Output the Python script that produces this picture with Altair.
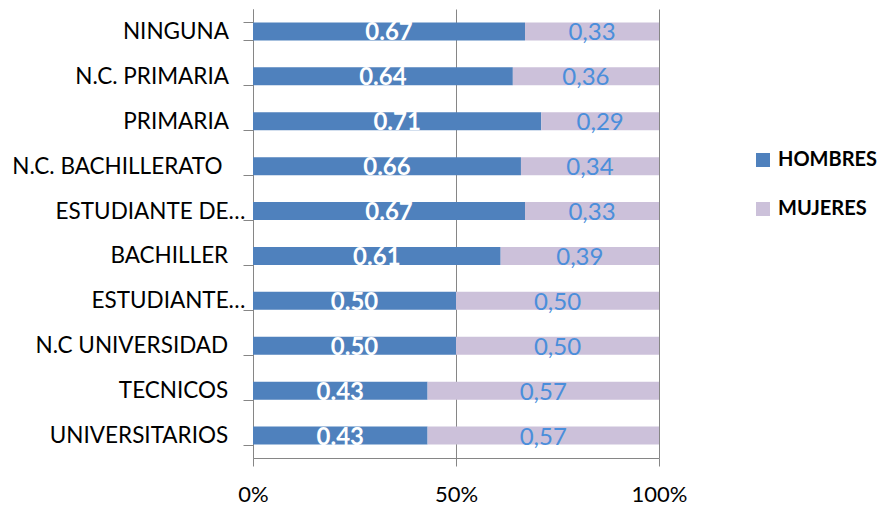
import altair as alt
import pandas as pd

categories = ["NINGUNA", "N.C. PRIMARIA", "PRIMARIA", "N.C. BACHILLERATO", "ESTUDIANTE DE…",
              "BACHILLER", "ESTUDIANTE…", "N.C UNIVERSIDAD", "TECNICOS", "UNIVERSITARIOS"]
hombres = [0.67, 0.64, 0.71, 0.66, 0.67, 0.61, 0.50, 0.50, 0.43, 0.43]
mujeres = [0.33, 0.36, 0.29, 0.34, 0.33, 0.39, 0.50, 0.50, 0.57, 0.57]
series = ["HOMBRES", "MUJERES"]
colors = ["#4F81BD", "#CCC1DA"]

rows = []
for c, h, m in zip(categories, hombres, mujeres):
    rows.append({"cat": c, "serie": "HOMBRES", "ord": 0, "v": h, "start": 0.0, "end": h,
                 "mid": h / 2, "lab": f"{h:.2f}"})
    rows.append({"cat": c, "serie": "MUJERES", "ord": 1, "v": m, "start": h, "end": h + m,
                 "mid": h + m / 2, "lab": f"{m:.2f}".replace(".", ",")})
df = pd.DataFrame(rows)

FONT = "Lato"
GAP = "\u00a0\u200b"
label_expr = (
    "indexof(datum.label, '…') >= 0 ? datum.label : "
    f"(datum.label == 'N.C. BACHILLERATO' ? datum.label + '{GAP * 4}' : datum.label + '{GAP * 3}')"
)

y_enc = alt.Y("cat:N", sort=categories, title=None,
              scale=alt.Scale(paddingInner=0.6, paddingOuter=0.3),
              axis=alt.Axis(labelFont=FONT, labelFontSize=22.5, labelColor="#000000",
                            labelPadding=-2, tickBand="extent", tickSize=10,
                            tickColor="#868686", domainColor="#868686", labelLimit=250,
                            labelExpr=label_expr))
x_scale = alt.Scale(domain=[0, 1], nice=False)

bars = alt.Chart(df).mark_bar().encode(
    y=y_enc,
    x=alt.X("start:Q", scale=x_scale, title=None,
            axis=alt.Axis(values=[0, 0.5, 1], format="%", labelFont=FONT, labelFontSize=22,
                          labelColor="#000000", labelPadding=18, tickSize=8,
                          tickColor="#868686", domainColor="#868686",
                          grid=True, gridColor="#868686", labelFlush=False)),
    x2="end:Q",
    color=alt.Color("serie:N", scale=alt.Scale(domain=series, range=colors),
                    legend=alt.Legend(title=None, orient="none", legendX=500, legendY=141,
                                      labelFont=FONT, labelFontSize=20, labelFontWeight="bold",
                                      labelColor="#000000", symbolType="square",
                                      symbolSize=196, symbolStrokeWidth=0,
                                      rowPadding=29, labelOffset=5)),
)

text_h = alt.Chart(df).transform_filter(alt.datum.serie == "HOMBRES").mark_text(
    font=FONT, fontSize=24, baseline="middle", dy=2, fontWeight="bold", color="#FFFFFF"
).encode(
    y=alt.Y("cat:N", sort=categories),
    x=alt.X("mid:Q", scale=x_scale),
    text="lab:N",
)
text_m = alt.Chart(df).transform_filter(alt.datum.serie == "MUJERES").mark_text(
    font=FONT, fontSize=24, baseline="middle", dy=2, color="#4A8EDB"
).encode(
    y=alt.Y("cat:N", sort=categories),
    x=alt.X("mid:Q", scale=x_scale),
    text="lab:N",
)

chart = alt.layer(bars, text_h, text_m).properties(
    width=406, height=449,
    autosize=alt.AutoSizeParams(type="none"),
    padding={"left": 245, "top": 1, "right": 222, "bottom": 49},
).configure_view(stroke=None).configure_axis(gridWidth=1, domainWidth=1, tickWidth=1)

chart.save("out.html", embed_options={"renderer": "svg", "actions": False})
